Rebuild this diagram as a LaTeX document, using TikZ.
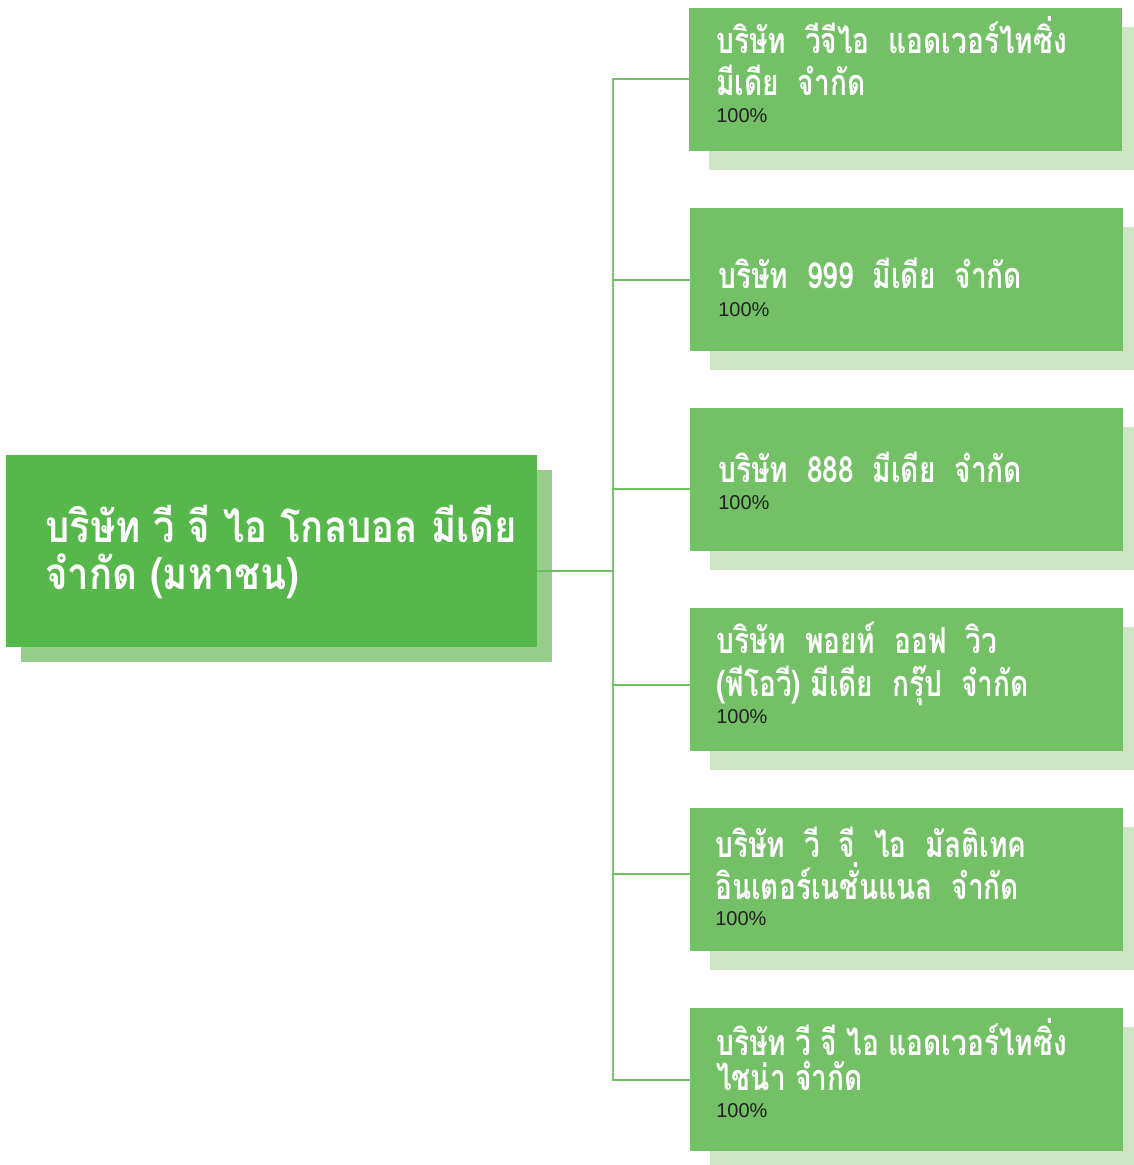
\documentclass[tikz,border=0pt]{standalone}
\usepackage{fontspec}
\setmainfont{Liberation Sans}
\newfontfamily\thaifont[Script=Thai,FakeStretch=0.78,BoldFont={Loma Bold}]{Loma}
\newfontfamily\thaimain[Script=Thai,FakeStretch=0.87,BoldFont={Loma Bold}]{Loma}
\usetikzlibrary{shadows}
\definecolor{mainfill}{HTML}{56B84A}
\definecolor{mainshadow}{HTML}{98CE8B}
\definecolor{childfill}{HTML}{73C067}
\definecolor{childshadow}{HTML}{CDE5C4}
\definecolor{connc}{HTML}{6DBF5F}
\definecolor{trunkc}{HTML}{7CC46E}
\definecolor{pctc}{HTML}{222222}
\tikzset{
  mainbox/.style={rectangle, fill=mainfill, inner sep=0pt, outer sep=0pt,
    anchor=north west, minimum width=398.25pt, minimum height=144pt,
    general shadow={fill=mainshadow, shadow xshift=10.9pt, shadow yshift=-10.9pt}},
  childbox/.style={rectangle, fill=childfill, inner sep=0pt, outer sep=0pt,
    anchor=north west, minimum width=324.75pt, minimum height=107.25pt,
    general shadow={fill=childshadow, shadow xshift=15pt, shadow yshift=-14.25pt}},
  maintext/.style={anchor=base west, inner sep=0pt, text=white, text depth=0pt,
    font=\thaimain\bfseries\fontsize{33pt}{36pt}\selectfont},
  childtext/.style={anchor=base west, inner sep=0pt, text=white, text depth=0pt,
    text height=17pt, font=\thaifont\bfseries\fontsize{27pt}{30pt}\selectfont},
  pcttext/.style={anchor=base west, inner sep=0pt, text=pctc, text height=10.5pt,
    font=\fontsize{15pt}{17pt}\selectfont},
  conn/.style={draw=connc, line width=2pt},
  trunk/.style={draw=trunkc, line width=1.8pt}
}
\begin{document}
\begin{tikzpicture}[x=0.75pt,y=-0.75pt]
\useasboundingbox (0,0) rectangle (1133,1165);
% boxes
\node[mainbox] (m) at (6,455) {};
\node[childbox] (c1) at (689,8) {};
\node[childbox] (c2) at (690,208) {};
\node[childbox] (c3) at (690,408) {};
\node[childbox] (c4) at (690,608) {};
\node[childbox] (c5) at (690,808) {};
\node[childbox] (c6) at (690,1008) {};
% connectors
\coordinate (jm) at (613,571);
\coordinate (j1) at (613,79);
\coordinate (j2) at (613,280);
\coordinate (j3) at (613,489);
\coordinate (j4) at (613,685);
\coordinate (j5) at (613,874);
\coordinate (j6) at (613,1080);
\draw[trunk] ([yshift=0.75pt]j1) -- ([yshift=-0.75pt]j6);
\draw[conn] (jm -| m.east) -- (jm);
\foreach \i in {1,...,6} { \draw[conn] (j\i) -- (j\i -| c\i.west); }
% texts
\node[maintext] (m1) at (45,542) {บริษัท วี จี ไอ โกลบอล มีเดีย};
\node[maintext] (m2) at (45,589) {จำกัด (มหาชน)};
\node[childtext] (t1a) at (716,53) {บริษัท~ วีจีไอ~ แอดเวอร์ไทซิ่ง};
\node[childtext] (t1b) at (716,95) {มีเดีย~ จำกัด};
\node[pcttext] (p1) at (716,122) {100\%};
\node[childtext] (t2a) at (718,288) {บริษัท~ 999~ มีเดีย~ จำกัด};
\node[pcttext] (p2) at (718,316) {100\%};
\node[childtext] (t3a) at (718,482) {บริษัท~ 888~ มีเดีย~ จำกัด};
\node[pcttext] (p3) at (718,509) {100\%};
\node[childtext] (t4a) at (716,653) {บริษัท~ พอยท์~ ออฟ~ วิว};
\node[childtext] (t4b) at (716,696) {(พีโอวี) มีเดีย~ กรุ๊ป~ จำกัด};
\node[pcttext] (p4) at (716,723) {100\%};
\node[childtext] (t5a) at (715,857) {บริษัท~ วี~ จี~ ไอ~ มัลติเทค};
\node[childtext] (t5b) at (715,899) {อินเตอร์เนชั่นแนล~ จำกัด};
\node[pcttext] (p5) at (715,925) {100\%};
\node[childtext] (t6a) at (716,1055) {บริษัท วี จี ไอ แอดเวอร์ไทซิ่ง};
\node[childtext] (t6b) at (716,1090) {ไชน่า จำกัด};
\node[pcttext] (p6) at (716,1117) {100\%};
\end{tikzpicture}
\end{document}
